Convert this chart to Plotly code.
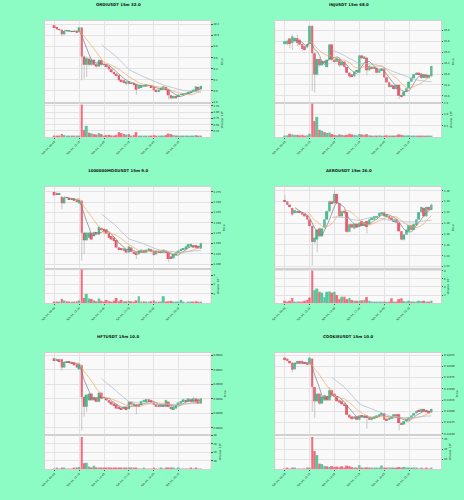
import plotly.graph_objects as go
import pandas as pd

# ---------------- data ----------------
CANDLE_INDEX = list(range(60))
XTICK_POS = [0, 10, 20, 30, 40, 50]
XTICK_LABELS = ["Feb 04, 09:45", "Feb 04, 12:15", "Feb 04, 14:45",
                "Feb 04, 17:15", "Feb 04, 19:45", "Feb 04, 22:15"]

TITLES = ["ORDIUSDT 15m 32.0", "INJUSDT 15m 68.0", "1000000MOGUSDT 15m 9.0",
          "AEROUSDT 15m 26.0", "HFTUSDT 15m 10.0", "COOKIEUSDT 15m 10.0"]

ORDI_open = [10.18,10.15,10.11,10.10,10.02,10.08,10.08,10.08,10.07,10.08,10.06,10.14,9.62,9.47,9.58,9.47,9.56,9.48,9.44,9.55,9.47,9.47,9.44,9.39,9.34,9.31,9.28,9.20,9.19,9.13,9.17,9.13,9.14,9.12,9.04,9.07,9.09,9.09,9.10,9.10,9.07,9.02,8.98,9.02,9.04,9.07,9.02,8.92,8.87,8.91,8.89,8.93,8.93,8.95,8.96,8.98,8.99,9.00,9.07,9.03]
ORDI_close = [10.15,10.11,10.10,10.02,10.08,10.08,10.08,10.07,10.08,10.06,10.14,9.62,9.47,9.59,9.47,9.56,9.47,9.44,9.55,9.47,9.47,9.44,9.39,9.34,9.31,9.28,9.19,9.17,9.16,9.17,9.13,9.14,9.11,9.02,9.10,9.10,9.09,9.11,9.10,9.07,9.01,8.98,9.02,9.05,9.08,9.02,8.92,8.87,8.91,8.87,8.93,8.93,8.95,8.96,8.98,8.99,9.02,9.08,9.02,9.09]
ORDI_high = [10.19,10.16,10.12,10.11,10.09,10.09,10.09,10.09,10.09,10.09,10.15,10.15,9.64,9.62,9.60,9.58,9.57,9.50,9.58,9.56,9.49,9.48,9.45,9.40,9.35,9.32,9.29,9.21,9.20,9.18,9.18,9.15,9.15,9.13,9.11,9.11,9.10,9.12,9.11,9.11,9.08,9.03,9.03,9.06,9.09,9.08,9.03,8.93,8.92,8.92,8.94,8.94,8.96,8.97,8.99,9.00,9.03,9.09,9.08,9.10]
ORDI_low = [10.14,10.10,10.08,9.98,10.01,10.06,10.07,10.06,10.06,10.05,10.05,9.19,9.22,9.25,9.44,9.45,9.45,9.42,9.43,9.45,9.45,9.42,9.37,9.32,9.29,9.26,9.17,9.15,9.14,9.10,9.11,9.12,9.08,8.93,9.03,9.06,9.07,9.08,9.09,9.06,9.00,8.97,8.97,9.01,9.03,9.01,8.85,8.85,8.86,8.86,8.88,8.92,8.92,8.94,8.95,8.97,8.98,8.99,9.01,9.02]
ORDI_volume = [0.04,0.05,0.03,0.13,0.08,0.05,0.03,0.04,0.03,0.05,0.06,1.30,0.28,0.45,0.18,0.15,0.12,0.10,0.16,0.12,0.06,0.08,0.09,0.07,0.06,0.08,0.20,0.16,0.12,0.10,0.12,0.06,0.08,0.20,0.06,0.05,0.04,0.05,0.04,0.06,0.08,0.05,0.04,0.05,0.06,0.08,0.14,0.12,0.08,0.06,0.05,0.04,0.04,0.05,0.04,0.03,0.05,0.08,0.05,0.06]

INJ_open = [16.55,16.55,16.65,16.57,16.60,16.66,16.63,16.55,16.51,16.49,16.55,16.88,16.38,15.99,16.275,16.16,16.24,16.13,16.26,16.54,16.26,16.225,16.275,16.16,16.225,16.13,16.025,15.99,15.96,16.04,16.025,16.34,16.29,16.30,16.07,16.13,16.10,16.11,16.025,16.07,16.10,15.94,15.85,15.76,15.79,15.725,15.80,15.60,15.60,15.675,15.74,15.86,15.925,15.99,16.025,16.01,15.925,15.99,15.925,15.96]
INJ_close = [16.60,16.61,16.55,16.69,16.66,16.57,16.54,16.46,16.44,16.55,16.88,16.38,15.99,16.275,16.16,16.24,16.22,16.26,16.54,16.26,16.225,16.29,16.16,16.225,16.13,16.025,15.96,15.96,16.04,16.07,16.34,16.29,16.32,16.07,16.15,16.10,16.125,16.025,16.07,16.10,15.94,15.85,15.76,15.80,15.725,15.80,15.60,15.59,15.675,15.74,15.86,15.925,15.99,16.025,15.99,15.925,15.99,15.925,15.975,16.145]
INJ_high = [16.61,16.63,16.66,16.725,16.68,16.725,16.64,16.56,16.52,16.56,16.90,16.90,16.40,16.29,16.29,16.26,16.25,16.27,16.55,16.55,16.27,16.30,16.28,16.24,16.24,16.14,16.03,16.00,16.05,16.08,16.35,16.35,16.33,16.31,16.16,16.14,16.13,16.12,16.08,16.11,16.11,15.95,15.86,15.81,15.80,15.81,15.81,15.62,15.69,15.75,15.87,15.94,16.00,16.04,16.03,16.02,16.00,16.00,15.98,16.15]
INJ_low = [16.54,16.53,16.475,16.44,16.58,16.51,16.52,16.425,16.43,16.48,16.54,15.69,15.66,15.97,16.13,16.15,16.20,16.12,16.25,16.225,16.21,16.22,16.13,16.15,16.12,16.01,15.925,15.95,15.95,16.03,16.02,16.28,16.27,15.975,16.06,16.09,16.09,16.01,16.02,16.06,15.93,15.84,15.75,15.75,15.71,15.71,15.54,15.57,15.59,15.66,15.73,15.85,15.92,15.98,15.98,15.91,15.92,15.92,15.91,15.95]
INJ_volume = [0.05,0.08,0.15,0.12,0.10,0.10,0.08,0.10,0.06,0.08,0.15,1.45,0.70,0.88,0.32,0.28,0.22,0.18,0.20,0.14,0.10,0.08,0.12,0.10,0.08,0.10,0.15,0.12,0.10,0.08,0.14,0.12,0.10,0.13,0.08,0.06,0.05,0.06,0.08,0.06,0.07,0.08,0.06,0.05,0.06,0.08,0.12,0.10,0.08,0.07,0.08,0.06,0.05,0.06,0.04,0.05,0.04,0.05,0.04,0.05]

MOG_open = [1.275,1.2726,1.2687,1.263,1.2472,1.2615,1.2607,1.2567,1.259,1.255,1.2472,1.2536,1.1758,1.1575,1.1639,1.1758,1.1679,1.1758,1.1718,1.1877,1.1853,1.1837,1.1758,1.1679,1.1639,1.1583,1.1401,1.1377,1.1321,1.136,1.1282,1.1401,1.130,1.1282,1.124,1.1282,1.134,1.1282,1.1321,1.136,1.1321,1.124,1.1321,1.1282,1.1282,1.1321,1.1282,1.1186,1.1139,1.1218,1.1266,1.1321,1.1345,1.136,1.1401,1.1456,1.1456,1.1456,1.144,1.1377]
MOG_close = [1.267,1.2687,1.271,1.2472,1.2615,1.2607,1.2567,1.259,1.2536,1.251,1.255,1.1758,1.1575,1.1758,1.1758,1.1599,1.1774,1.1742,1.190,1.1837,1.1798,1.1742,1.1639,1.1599,1.156,1.1401,1.136,1.1345,1.1377,1.1282,1.1425,1.130,1.1266,1.1218,1.1321,1.1345,1.1282,1.1345,1.1377,1.130,1.1218,1.1321,1.1282,1.1321,1.1345,1.1282,1.1123,1.1139,1.124,1.1282,1.1321,1.136,1.1377,1.1425,1.148,1.148,1.1401,1.1393,1.1385,1.1504]
MOG_high = [1.277,1.274,1.2726,1.264,1.263,1.263,1.262,1.261,1.260,1.256,1.256,1.255,1.177,1.177,1.178,1.177,1.179,1.177,1.193,1.189,1.186,1.185,1.177,1.169,1.165,1.159,1.141,1.139,1.139,1.137,1.144,1.141,1.131,1.129,1.133,1.136,1.135,1.136,1.139,1.137,1.133,1.133,1.133,1.133,1.136,1.133,1.129,1.120,1.125,1.129,1.133,1.137,1.139,1.144,1.149,1.150,1.147,1.147,1.145,1.152]
MOG_low = [1.266,1.268,1.268,1.233,1.246,1.259,1.256,1.256,1.253,1.250,1.246,1.1083,1.1243,1.156,1.162,1.158,1.166,1.172,1.170,1.182,1.178,1.173,1.162,1.158,1.154,1.138,1.134,1.132,1.130,1.126,1.127,1.129,1.125,1.1123,1.123,1.127,1.127,1.127,1.131,1.129,1.120,1.123,1.127,1.127,1.127,1.127,1.1043,1.112,1.113,1.121,1.126,1.131,1.134,1.135,1.139,1.144,1.139,1.138,1.137,1.137]
MOG_volume = [0.1,0.15,0.1,0.45,0.3,0.2,0.15,0.1,0.1,0.2,0.3,3.6,0.55,1.0,0.5,0.45,0.3,0.2,0.5,0.25,0.15,0.35,0.2,0.1,0.25,0.55,0.2,0.35,0.2,0.2,0.25,0.2,0.15,0.3,0.75,0.15,0.2,0.15,0.1,0.2,0.3,0.15,0.1,0.15,0.75,0.1,0.2,0.25,0.15,0.1,0.15,0.35,0.1,0.05,0.1,0.1,0.15,0.2,0.1,0.1]

AERO_open = [1.343,1.340,1.334,1.328,1.319,1.320,1.322,1.320,1.317,1.314,1.307,1.295,1.265,1.270,1.290,1.276,1.292,1.307,1.322,1.340,1.337,1.354,1.337,1.313,1.322,1.320,1.284,1.298,1.290,1.299,1.293,1.304,1.295,1.304,1.298,1.307,1.307,1.310,1.313,1.316,1.320,1.313,1.313,1.310,1.302,1.307,1.301,1.285,1.270,1.279,1.285,1.296,1.288,1.296,1.307,1.320,1.328,1.313,1.330,1.325]
AERO_close = [1.340,1.334,1.330,1.316,1.324,1.322,1.319,1.316,1.313,1.307,1.295,1.265,1.273,1.288,1.276,1.290,1.307,1.322,1.340,1.337,1.354,1.337,1.313,1.322,1.319,1.284,1.298,1.292,1.299,1.292,1.301,1.295,1.302,1.293,1.307,1.310,1.313,1.313,1.319,1.320,1.313,1.316,1.308,1.307,1.307,1.301,1.285,1.270,1.279,1.288,1.296,1.288,1.298,1.307,1.320,1.330,1.313,1.330,1.325,1.334]
AERO_high = [1.352,1.341,1.335,1.329,1.325,1.324,1.323,1.321,1.318,1.315,1.308,1.296,1.274,1.290,1.292,1.291,1.308,1.324,1.342,1.342,1.360,1.355,1.338,1.324,1.323,1.321,1.299,1.299,1.300,1.300,1.302,1.305,1.303,1.305,1.308,1.311,1.314,1.314,1.320,1.321,1.321,1.317,1.314,1.311,1.308,1.308,1.302,1.286,1.280,1.289,1.297,1.297,1.299,1.308,1.321,1.331,1.330,1.331,1.331,1.336]
AERO_low = [1.339,1.333,1.329,1.314,1.318,1.319,1.318,1.315,1.312,1.306,1.293,1.222,1.262,1.246,1.274,1.275,1.290,1.306,1.321,1.335,1.336,1.336,1.311,1.312,1.317,1.282,1.283,1.291,1.289,1.291,1.292,1.294,1.294,1.281,1.297,1.306,1.306,1.309,1.312,1.315,1.312,1.312,1.307,1.306,1.301,1.300,1.284,1.268,1.268,1.278,1.284,1.287,1.287,1.295,1.306,1.319,1.312,1.312,1.324,1.324]
AERO_volume = [0.6,0.3,0.6,1.3,0.3,0.3,0.2,0.4,0.6,0.8,1.4,8.0,3.2,3.6,2.8,2.6,1.5,2.8,2.9,2.6,2.8,2.0,1.0,1.6,1.6,1.0,1.3,0.8,0.6,0.6,0.6,0.7,0.8,1.5,0.6,0.3,0.3,0.3,0.3,0.3,0.4,0.3,0.3,1.2,0.3,0.4,1.0,1.2,0.5,0.4,0.6,0.3,0.2,0.3,0.6,0.5,0.6,0.4,0.3,0.6]

HFT_open = [0.090355,0.090333,0.090342,0.090342,0.090230,0.090306,0.090310,0.090306,0.090297,0.090274,0.090207,0.090261,0.089826,0.089692,0.089781,0.089871,0.089781,0.089813,0.089759,0.089884,0.089826,0.089813,0.089781,0.089759,0.089736,0.089723,0.089692,0.089678,0.089660,0.089692,0.089660,0.089759,0.089714,0.089723,0.089714,0.089714,0.089759,0.089768,0.089795,0.089781,0.089750,0.089723,0.089714,0.089692,0.089723,0.089692,0.089759,0.089692,0.089647,0.089669,0.089714,0.089736,0.089768,0.089781,0.089759,0.089795,0.089759,0.089804,0.089795,0.089736]
HFT_close = [0.090333,0.090342,0.090319,0.090230,0.090306,0.090310,0.090306,0.090288,0.090261,0.090230,0.090274,0.089826,0.089692,0.089857,0.089871,0.089781,0.089826,0.089759,0.089884,0.089804,0.089813,0.089781,0.089750,0.089723,0.089714,0.089669,0.089669,0.089660,0.089692,0.089647,0.089759,0.089723,0.089736,0.089692,0.089692,0.089768,0.089781,0.089795,0.089768,0.089750,0.089723,0.089692,0.089692,0.089723,0.089692,0.089781,0.089692,0.089660,0.089692,0.089714,0.089750,0.089768,0.089790,0.089759,0.089804,0.089759,0.089804,0.089750,0.089736,0.089804]
HFT_high = [0.090365,0.090350,0.090348,0.090348,0.090315,0.090320,0.090318,0.090312,0.090302,0.090280,0.090285,0.090270,0.089835,0.089865,0.089880,0.089880,0.089835,0.089820,0.089895,0.089890,0.089835,0.089820,0.089790,0.089765,0.089742,0.089730,0.089700,0.089685,0.089700,0.089700,0.089770,0.089765,0.089745,0.089730,0.089720,0.089775,0.089790,0.089805,0.089805,0.089790,0.089758,0.089730,0.089720,0.089730,0.089730,0.089790,0.089765,0.089700,0.089700,0.089720,0.089758,0.089775,0.089800,0.089790,0.089812,0.089805,0.089830,0.089812,0.089805,0.089812]
HFT_low = [0.090325,0.090328,0.090312,0.090185,0.090225,0.090300,0.090300,0.090282,0.090255,0.090222,0.090200,0.089364,0.089557,0.089620,0.089770,0.089775,0.089775,0.089750,0.089750,0.089795,0.089805,0.089772,0.089742,0.089715,0.089705,0.089660,0.089660,0.089650,0.089652,0.089640,0.089652,0.089715,0.089705,0.089588,0.089685,0.089705,0.089750,0.089760,0.089760,0.089742,0.089715,0.089685,0.089685,0.089685,0.089685,0.089685,0.089680,0.089650,0.089640,0.089660,0.089705,0.089728,0.089760,0.089750,0.089750,0.089750,0.089750,0.089742,0.089728,0.089728]
HFT_volume = [0.5,0.8,0.6,1.8,1.0,0.6,0.5,0.6,0.8,1.2,2.5,38,7.0,7.5,3.0,2.0,4.0,2.0,1.5,1.0,0.8,1.2,1.5,1.2,1.0,1.8,1.5,1.2,1.0,1.0,2.0,1.0,0.8,1.5,0.6,0.5,0.8,0.6,0.5,0.6,0.8,0.6,0.5,0.8,0.6,0.8,1.5,1.2,0.8,0.6,0.8,0.5,0.5,0.6,0.5,0.8,0.6,0.8,0.5,0.6]

COOKIE_open = [0.140192,0.140170,0.140119,0.140083,0.139938,0.140068,0.140110,0.140119,0.140097,0.140083,0.140047,0.140170,0.139538,0.139225,0.139392,0.139174,0.139247,0.139342,0.139247,0.139465,0.139392,0.139342,0.139247,0.139225,0.139174,0.139138,0.138920,0.138884,0.138833,0.138884,0.138811,0.138906,0.138862,0.138906,0.138862,0.138811,0.138847,0.138862,0.138884,0.138935,0.138956,0.138833,0.138811,0.138833,0.138884,0.138935,0.138935,0.138738,0.138702,0.138775,0.138811,0.138847,0.138906,0.138956,0.139029,0.139007,0.139051,0.139029,0.139007,0.138978]
COOKIE_close = [0.140141,0.140119,0.140068,0.139923,0.140083,0.140119,0.140097,0.140068,0.140068,0.140047,0.140192,0.139538,0.139225,0.139392,0.139174,0.139320,0.139356,0.139247,0.139465,0.139356,0.139320,0.139225,0.139196,0.139153,0.139138,0.138920,0.138862,0.138847,0.138884,0.138811,0.138906,0.138884,0.138906,0.138847,0.138811,0.138862,0.138884,0.138906,0.138935,0.138956,0.138811,0.138789,0.138847,0.138884,0.138935,0.138884,0.138738,0.138702,0.138775,0.138833,0.138862,0.138906,0.138956,0.139007,0.138993,0.139051,0.138993,0.138978,0.138956,0.139051]
COOKIE_high = [0.140210,0.140180,0.140130,0.140090,0.140090,0.140130,0.140125,0.140130,0.140105,0.140090,0.140200,0.140180,0.139545,0.139400,0.139400,0.139330,0.139365,0.139350,0.139540,0.139475,0.139400,0.139350,0.139255,0.139235,0.139180,0.139145,0.138930,0.138892,0.138892,0.138892,0.138915,0.138915,0.138915,0.138915,0.138870,0.138870,0.138892,0.138915,0.138942,0.138965,0.138965,0.138840,0.138855,0.138892,0.138942,0.138942,0.138942,0.138745,0.138782,0.138840,0.138870,0.138915,0.138965,0.139015,0.139060,0.139060,0.139060,0.139040,0.139015,0.139060]
COOKIE_low = [0.140130,0.140110,0.140060,0.139865,0.139930,0.140060,0.140090,0.140060,0.140060,0.140040,0.140040,0.138993,0.138847,0.139215,0.139138,0.139165,0.139240,0.139240,0.139240,0.139345,0.139310,0.139215,0.139185,0.139145,0.139130,0.138910,0.138855,0.138800,0.138825,0.138800,0.138800,0.138875,0.138855,0.138615,0.138800,0.138800,0.138840,0.138855,0.138875,0.138928,0.138800,0.138780,0.138800,0.138825,0.138875,0.138875,0.138571,0.138690,0.138695,0.138768,0.138800,0.138840,0.138900,0.138950,0.138985,0.139000,0.138985,0.138970,0.138945,0.138970]
COOKIE_volume = [0.5,0.6,0.4,1.5,0.8,0.5,0.4,0.3,0.4,0.6,1.2,32,18,14,5.5,5,3,2.8,2.2,3,2,2.5,1.8,2.8,1.5,3.5,3,2,1.5,1.2,4,1.5,1,1.8,1,0.8,1.5,0.8,1,3.5,1,0.8,1,0.8,1.5,1,2,1.5,2.2,1,0.8,1,0.6,1,0.5,0.6,0.5,0.6,0.5,0.6]

PRICE_TICKS = [
    [8.8, 9.0, 9.2, 9.4, 9.6, 9.8, 10.0, 10.2],
    [15.6, 15.8, 16.0, 16.2, 16.4, 16.6, 16.8],
    [1.100, 1.125, 1.150, 1.175, 1.200, 1.225, 1.250, 1.275],
    [1.22, 1.24, 1.26, 1.28, 1.30, 1.32, 1.34, 1.36],
    [0.0894, 0.0896, 0.0898, 0.0900, 0.0902, 0.0904],
    [0.13850, 0.13875, 0.13900, 0.13925, 0.13950, 0.13975, 0.14000, 0.14025],
]
PRICE_DECIMALS = [1, 1, 3, 2, 4, 5]
VOLUME_TICKS = [
    [0.25, 0.50, 0.75, 1.00, 1.25],
    [0.5, 1.0, 1.5],
    [1, 2, 3],
    [2, 4, 6, 8],
    [10, 20, 30, 40],
    [10, 20, 30],
]
VOLUME_DECIMALS = [2, 1, 0, 0, 0, 0]
VOLUME_LABEL = ["Volume  10⁶", "Volume  10⁶", "Volume  10⁷", "Volume  10⁵", "Volume  10⁶", "Volume  10⁶"]
MA_WINDOWS = [5, 10, 20]

# ---------------- style / layout ----------------
PRICE_RANGES = [(8.79, 10.26), (15.475, 16.975), (1.089, 1.287), (1.216, 1.367),
                (0.08931, 0.09043), (0.13848, 0.14030)]
VOLUME_RANGES = [(0, 1.38), (0, 1.5), (0, 3.7), (0, 8.5), (0, 40.8), (0, 34.4)]

UP = "#2ebd85"
DOWN = "#f6465d"
WICK = "#a8a8a8"
MA_COLORS = ["#7d7d7d", "#f2a865", "#a9b8cc"]
BG = "#8dfcc4"
PLOT_BG = "#f9f9f9"
GRID = "#e3e3e3"
FONT = "DejaVu Sans"

W, H = 464, 500
COLS = [(42, 209), (274, 441)]
ROW_TOPS = [20, 186.7, 353.3]
PRICE_H = 82
VOL_H = 34.7

panels = [
    (ORDI_open, ORDI_high, ORDI_low, ORDI_close, ORDI_volume),
    (INJ_open, INJ_high, INJ_low, INJ_close, INJ_volume),
    (MOG_open, MOG_high, MOG_low, MOG_close, MOG_volume),
    (AERO_open, AERO_high, AERO_low, AERO_close, AERO_volume),
    (HFT_open, HFT_high, HFT_low, HFT_close, HFT_volume),
    (COOKIE_open, COOKIE_high, COOKIE_low, COOKIE_close, COOKIE_volume),
]
for p in panels:
    for s in p:
        assert len(s) == 60, len(s)

fig = go.Figure()
layout = {}
annotations = []

for k, (o, h, l, c, v) in enumerate(panels):
    row, col = k // 2, k % 2
    pa, va = 2 * k + 1, 2 * k + 2
    xs_p, ys_p = f"x{pa}", f"y{pa}"
    xs_v, ys_v = f"x{va}", f"y{va}"
    colors = [UP if cc >= oo else DOWN for oo, cc in zip(o, c)]
    span = PRICE_RANGES[k][1] - PRICE_RANGES[k][0]

    # wicks
    wx, wy = [], []
    for i in CANDLE_INDEX:
        wx += [i, i, None]
        wy += [l[i], h[i], None]
    fig.add_trace(go.Scatter(x=wx, y=wy, mode="lines", line=dict(color=WICK, width=0.6),
                             xaxis=xs_p, yaxis=ys_p, showlegend=False, hoverinfo="skip"))
    # bodies
    base = [min(oo, cc) for oo, cc in zip(o, c)]
    height = [max(abs(cc - oo), span * 0.004) for oo, cc in zip(o, c)]
    fig.add_trace(go.Bar(x=CANDLE_INDEX, y=height, base=base, marker=dict(color=colors, line=dict(width=0)),
                         width=0.8, xaxis=xs_p, yaxis=ys_p, showlegend=False))
    # moving averages
    cs = pd.Series(c)
    for w, mc in zip(MA_WINDOWS, MA_COLORS):
        ma = cs.rolling(w).mean()
        fig.add_trace(go.Scatter(x=CANDLE_INDEX, y=ma, mode="lines", line=dict(color=mc, width=0.7),
                                 xaxis=xs_p, yaxis=ys_p, showlegend=False))
    # volume
    fig.add_trace(go.Bar(x=CANDLE_INDEX, y=v, marker=dict(color=colors, line=dict(width=0)), opacity=0.8,
                         width=0.8, xaxis=xs_v, yaxis=ys_v, showlegend=False))

    x0, x1 = COLS[col]
    top = ROW_TOPS[row]
    xdom = [x0 / W, x1 / W]
    pdom = [1 - (top + PRICE_H) / H, 1 - top / H]
    vdom = [1 - (top + PRICE_H + VOL_H) / H, 1 - (top + PRICE_H) / H]

    common_x = dict(domain=xdom, range=[-3.9, 62.9], tickvals=XTICK_POS, ticktext=XTICK_LABELS,
                    showgrid=True, gridcolor=GRID, gridwidth=0.5, zeroline=False,
                    showline=True, linecolor="#d0d0d0", linewidth=0.6, mirror=True)
    layout[f"xaxis{pa}"] = dict(common_x, anchor=ys_p, showticklabels=False, ticks="", matches=xs_v)
    layout[f"xaxis{va}"] = dict(common_x, anchor=ys_v, showticklabels=True, tickangle=-45,
                                ticks="outside", ticklen=1.5, tickwidth=0.5, tickcolor="#555",
                                tickfont=dict(size=2.6, family=FONT, color="#222"))
    pd_ = PRICE_DECIMALS[k]
    layout[f"yaxis{pa}"] = dict(domain=pdom, anchor=xs_p, side="right", range=list(PRICE_RANGES[k]),
                                tickvals=PRICE_TICKS[k], ticktext=[f"{t:.{pd_}f}" for t in PRICE_TICKS[k]],
                                ticks="outside", ticklen=1.5, tickwidth=0.5, tickcolor="#555",
                                tickfont=dict(size=2.6, family=FONT, color="#222"),
                                title=dict(text="Price", font=dict(size=2.8, family=FONT, color="#222"), standoff=2),
                                showgrid=True, gridcolor=GRID, gridwidth=0.5, zeroline=False,
                                showline=True, linecolor="#d0d0d0", linewidth=0.6, mirror=True)
    vd = VOLUME_DECIMALS[k]
    layout[f"yaxis{va}"] = dict(domain=vdom, anchor=xs_v, side="right", range=list(VOLUME_RANGES[k]),
                                tickvals=VOLUME_TICKS[k], ticktext=[f"{t:.{vd}f}" for t in VOLUME_TICKS[k]],
                                ticks="outside", ticklen=1.5, tickwidth=0.5, tickcolor="#555",
                                tickfont=dict(size=2.6, family=FONT, color="#222"),
                                title=dict(text=VOLUME_LABEL[k], font=dict(size=2.8, family=FONT, color="#222"), standoff=2),
                                showgrid=True, gridcolor=GRID, gridwidth=0.5, zeroline=False,
                                showline=True, linecolor="#d0d0d0", linewidth=0.6, mirror=True)
    annotations.append(dict(text=f"<b>{TITLES[k]}</b>", x=(116 + 232 * col) / W, y=1 - (4 + 166.67 * row) / H,
                            xref="paper", yref="paper", xanchor="center", yanchor="middle", showarrow=False,
                            font=dict(size=3.9, family=FONT, color="#111")))

fig.update_layout(**layout)
fig.update_layout(width=W, height=H, margin=dict(l=0, r=0, t=0, b=0), paper_bgcolor=BG, plot_bgcolor=PLOT_BG,
                  barmode="overlay", bargap=0.2, annotations=annotations, showlegend=False,
                  font=dict(family=FONT))
fig.write_html("out.html")
